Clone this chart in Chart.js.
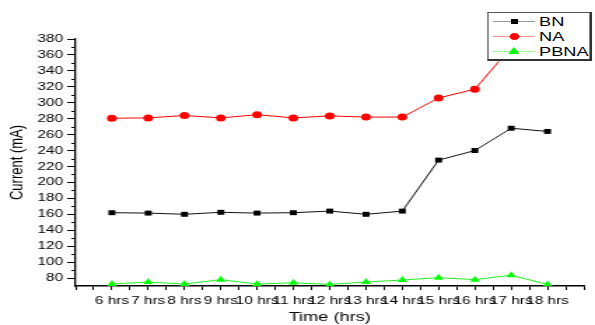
<!DOCTYPE html>
<html lang="en">
<head>
  <meta charset="UTF-8" />
  <title>Current vs Time</title>
  <script src="https://cdn.jsdelivr.net/npm/chart.js"></script>
  <style>
    html, body { margin: 0; padding: 0; background: #fff; overflow: hidden; }
    /* the plot is laid out narrow and widened sideways */
    #stage { position: absolute; left: 0; top: 0; width: 425px; height: 325px; transform: scaleX(1.4); transform-origin: 0 0; }
    #legend { position: absolute; left: 348px; top: 12px; width: 72px; height: 46px; background: #fff;
              border: 1px solid #555; border-right: 2px solid #333; border-bottom: 2px solid #333;
              font: 13px "Liberation Sans", Arial, sans-serif; color: #000; }
    .row { position: absolute; left: 0; width: 100%; height: 14px; }
    .row .ln { position: absolute; left: 3px; width: 30px; top: 7px; height: 1px; }
    .row .mk { position: absolute; }
    .row .tx { position: absolute; left: 36px; top: 0; line-height: 15px; }
  </style>
</head>
<body>
  <div id="stage">
    <canvas id="chart"></canvas>
    <div id="legend"></div>
  </div>

  <script>
    const hours = [6, 7, 8, 9, 10, 11, 12, 13, 14, 15, 16, 17, 18];
    const timeLabels = ['6 hrs', '7 hrs', '8 hrs', '9 hrs', '10 hrs', '11 hrs', '12 hrs',
                        '13 hrs', '14 hrs', '15 hrs', '16 hrs', '17 hrs', '18 hrs'];
    const bnCurrent = [162, 161.5, 160, 162.5, 161.5, 162, 164, 160, 164, 228, 240, 268, 264];
    const naCurrent = [280.5, 281, 284, 281, 285, 281, 283.5, 282, 282, 306, 317, 370, 374];
    const pbnaCurrent = [72.5, 75, 72.5, 78, 72.5, 74, 72, 75, 77.5, 80.5, 78, 83.5, 72];
    const currentTicks = [80, 100, 120, 140, 160, 180, 200, 220, 240, 260, 280, 300, 320, 340, 360, 380];

    Chart.defaults.font.family = '"Liberation Sans", Arial, sans-serif';
    Chart.defaults.color = '#000';

    const toPoints = vals => hours.map((h, i) => ({ x: h, y: vals[i] }));

    // short ticks halfway between the labelled y ticks
    const minorTicks = {
      id: 'minorTicks',
      afterDraw(chart) {
        const y = chart.scales.y;
        const ctx = chart.ctx;
        const vals = y.ticks.map(t => t.value);
        ctx.save();
        ctx.strokeStyle = '#000';
        ctx.lineWidth = 1;
        for (let i = 0; i < vals.length - 1; i++) {
          const py = Math.round(y.getPixelForValue((vals[i] + vals[i + 1]) / 2)) + 0.5;
          ctx.beginPath();
          ctx.moveTo(y.right - 3, py);
          ctx.lineTo(y.right, py);
          ctx.stroke();
        }
        ctx.restore();
      }
    };

    const datasets = [
      { label: 'BN', data: toPoints(bnCurrent), borderColor: '#111', backgroundColor: '#000',
        pointStyle: 'rect', pointRadius: 3.5, legendLine: '#999' },
      { label: 'NA', data: toPoints(naCurrent), borderColor: '#ff0000', backgroundColor: '#ff0000',
        pointStyle: 'circle', pointRadius: 3.5, legendLine: '#ff9090' },
      { label: 'PBNA', data: toPoints(pbnaCurrent), borderColor: '#22ee22', backgroundColor: '#00ff00',
        pointStyle: 'triangle', pointRadius: 4, legendLine: '#90ff90' }
    ];
    datasets.forEach(d => { d.borderWidth = 1; d.pointBorderWidth = 0; d.tension = 0; });

    new Chart(document.getElementById('chart'), {
      type: 'line',
      data: { datasets },
      options: {
        responsive: true,
        maintainAspectRatio: false,
        animation: false,
        layout: { padding: { top: 39, right: 8, bottom: 0, left: 0 } },
        plugins: { legend: { display: false }, tooltip: { enabled: false } },
        scales: {
          x: {
            type: 'linear', min: 5, max: 19,
            afterFit: s => { s.height = 39; },
            border: { color: '#000', width: 1.5 },
            grid: { drawOnChartArea: false, tickLength: 4, tickColor: '#000', tickWidth: 1 },
            ticks: {
              stepSize: 0.5, autoSkip: false, maxRotation: 0, padding: 4, font: { size: 11 },
              callback: v => { const i = hours.indexOf(v); return i >= 0 ? timeLabels[i] : ''; }
            },
            title: { display: true, text: 'Time (hrs)', font: { size: 13 }, padding: { top: 0, bottom: 0 } }
          },
          y: {
            min: 70, max: 380,
            afterFit: s => { s.width = 54; },
            afterBuildTicks: s => { s.ticks = currentTicks.map(v => ({ value: v })); },
            border: { color: '#000', width: 1.3 },
            grid: { drawOnChartArea: false, tickLength: 6, tickWidth: 1, tickColor: '#000' },
            ticks: { padding: 3, font: { size: 11 } },
            title: { display: true, text: 'Current (mA)', font: { size: 13 }, padding: { top: 5, bottom: 0 } }
          }
        }
      },
      plugins: [minorTicks]
    });

    // legend box drawn over the top right corner of the plot
    const legend = document.getElementById('legend');
    datasets.forEach((d, i) => {
      const row = document.createElement('div');
      row.className = 'row';
      row.style.top = (1 + i * 15) + 'px';
      const ln = document.createElement('div');
      ln.className = 'ln';
      ln.style.background = d.legendLine;
      const mk = document.createElement('div');
      mk.className = 'mk';
      if (d.pointStyle === 'rect') {
        Object.assign(mk.style, { left: '16px', top: '5px', width: '5px', height: '5px', background: d.backgroundColor });
      } else if (d.pointStyle === 'circle') {
        Object.assign(mk.style, { left: '15px', top: '4px', width: '7px', height: '7px', borderRadius: '50%', background: d.backgroundColor });
      } else {
        Object.assign(mk.style, { left: '14px', top: '3px', width: '0', height: '0',
          borderLeft: '4px solid transparent', borderRight: '4px solid transparent', borderBottom: '7px solid ' + d.backgroundColor });
      }
      const tx = document.createElement('div');
      tx.className = 'tx';
      tx.textContent = d.label;
      row.append(ln, mk, tx);
      legend.appendChild(row);
    });
  </script>
</body>
</html>
